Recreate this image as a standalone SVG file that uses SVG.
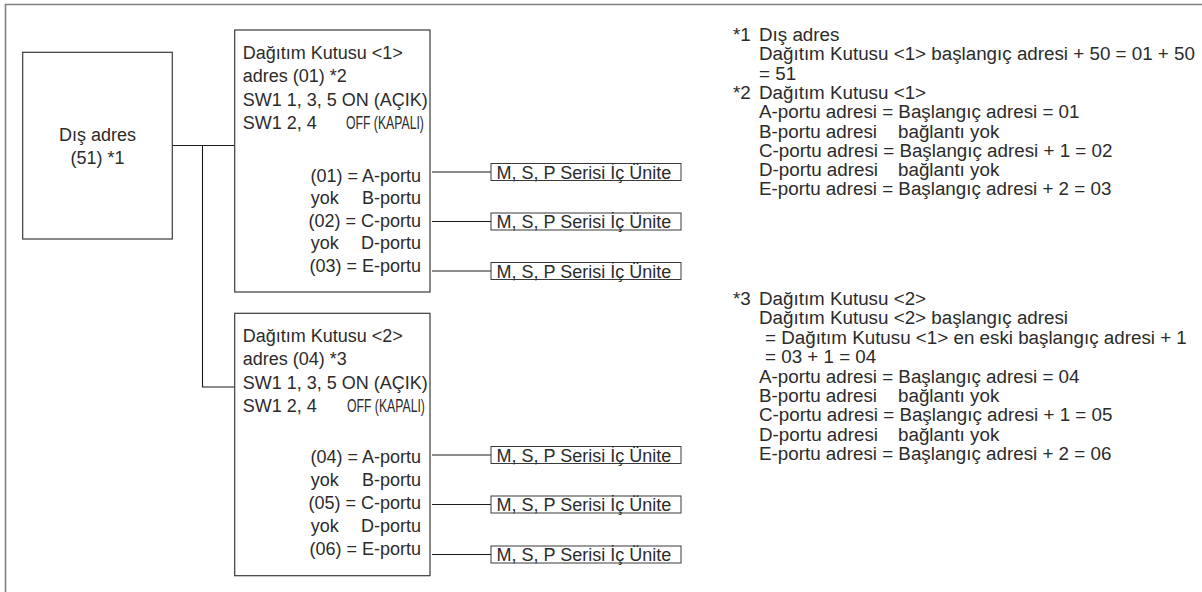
<svg xmlns="http://www.w3.org/2000/svg" width="1202" height="592" viewBox="0 0 1202 592">
<style>
text{font-family:"Liberation Sans",Arial,sans-serif;fill:#2b2b2b}
.t{font-size:18px}
.r{font-size:18.8px}
.e{text-anchor:end}
.m{text-anchor:middle}
.box{fill:#fff;stroke:#3a3a3a;stroke-width:1.2}
.unit{fill:#fff;stroke:#3a3a3a;stroke-width:1}
.ln{fill:none;stroke:#1a1a1a;stroke-width:1.1}
.frame{fill:none;stroke:#808080;stroke-width:1.6}
.nar{font-size:18px}
</style>
<rect width="1202" height="592" fill="#fff"/>
<path class="frame" d="M5.5,592 V4.5 H1202"/>

<g id="connectors">
<path class="ln" d="M172.3,145.5 H234.7 M202.5,145.5 V387 H234.7"/>
<path class="ln" d="M432,172 H491 M432,221.5 H491 M432,271 H491"/>
<path class="ln" d="M432,455 H491 M432,504.5 H491 M432,554.5 H491"/>
</g>

<g id="outdoor">
<rect class="box" x="22.7" y="52.3" width="149.6" height="186.7"/>
<text class="t m" x="97.5" y="140.7">Dış adres</text>
<text class="t m" x="97.5" y="164">(51) *1</text>
</g>

<g id="branchbox1">
<rect class="box" x="234.7" y="30" width="195.3" height="262"/>
<text class="t" x="242.7" y="58.5">Dağıtım Kutusu &lt;1&gt;</text>
<text class="t" x="242.7" y="82">adres (01) *2</text>
<text class="t" x="242.7" y="105.5">SW1 1, 3, 5 ON (AÇIK)</text>
<text class="t" x="242.7" y="129">SW1 2, 4</text>
<text class="nar" transform="translate(346,129) scale(0.68,1)">OFF (KAPALI)</text>
<text class="t e" x="421" y="181.5">(01) = A-portu</text>
<text class="t" x="310.7" y="204">yok</text>
<text class="t e" x="421" y="204">B-portu</text>
<text class="t e" x="421" y="226.5">(02) = C-portu</text>
<text class="t" x="310.7" y="249">yok</text>
<text class="t e" x="421" y="249">D-portu</text>
<text class="t e" x="421" y="271.5">(03) = E-portu</text>
</g>

<g id="branchbox2">
<rect class="box" x="234.7" y="313.3" width="195.3" height="262.4"/>
<text class="t" x="242.7" y="341.8">Dağıtım Kutusu &lt;2&gt;</text>
<text class="t" x="242.7" y="365.3">adres (04) *3</text>
<text class="t" x="242.7" y="388.8">SW1 1, 3, 5 ON (AÇIK)</text>
<text class="t" x="242.7" y="412.3">SW1 2, 4</text>
<text class="nar" transform="translate(347,412.3) scale(0.68,1)">OFF (KAPALI)</text>
<text class="t e" x="421" y="463">(04) = A-portu</text>
<text class="t" x="310.7" y="486">yok</text>
<text class="t e" x="421" y="486">B-portu</text>
<text class="t e" x="421" y="509">(05) = C-portu</text>
<text class="t" x="310.7" y="532">yok</text>
<text class="t e" x="421" y="532">D-portu</text>
<text class="t e" x="421" y="555">(06) = E-portu</text>
</g>

<g id="unit1"><rect class="unit" x="491" y="163.5" width="190" height="17"/><text class="t" x="496.5" y="178.5">M, S, P Serisi İç Ünite</text></g>
<g id="unit2"><rect class="unit" x="491" y="213" width="190" height="17"/><text class="t" x="496.5" y="228">M, S, P Serisi İç Ünite</text></g>
<g id="unit3"><rect class="unit" x="491" y="262.5" width="190" height="17"/><text class="t" x="496.5" y="277.5">M, S, P Serisi İç Ünite</text></g>
<g id="unit4"><rect class="unit" x="491" y="446.5" width="190" height="17"/><text class="t" x="496.5" y="461.5">M, S, P Serisi İç Ünite</text></g>
<g id="unit5"><rect class="unit" x="491" y="496" width="190" height="17"/><text class="t" x="496.5" y="511">M, S, P Serisi İç Ünite</text></g>
<g id="unit6"><rect class="unit" x="491" y="546" width="190" height="17"/><text class="t" x="496.5" y="561">M, S, P Serisi İç Ünite</text></g>

<g id="notes">
<text class="r" x="733" y="41">*1</text>
<text class="r" x="759" y="41">Dış adres</text>
<text class="r" x="759" y="60.3">Dağıtım Kutusu &lt;1&gt; başlangıç adresi + 50 = 01 + 50</text>
<text class="r" x="759" y="79.6">= 51</text>
<text class="r" x="733" y="98.9">*2</text>
<text class="r" x="759" y="98.9">Dağıtım Kutusu &lt;1&gt;</text>
<text class="r" x="759" y="118.2">A-portu adresi = Başlangıç adresi = 01</text>
<text class="r" x="759" y="137.5">B-portu adresi</text>
<text class="r" x="898" y="137.5">bağlantı yok</text>
<text class="r" x="759" y="156.8">C-portu adresi = Başlangıç adresi + 1 = 02</text>
<text class="r" x="759" y="176.1">D-portu adresi</text>
<text class="r" x="898" y="176.1">bağlantı yok</text>
<text class="r" x="759" y="195.4">E-portu adresi = Başlangıç adresi + 2 = 03</text>

<text class="r" x="733" y="305">*3</text>
<text class="r" x="759" y="305">Dağıtım Kutusu &lt;2&gt;</text>
<text class="r" x="759" y="324.4">Dağıtım Kutusu &lt;2&gt; başlangıç adresi</text>
<text class="r" x="765" y="343.8">= Dağıtım Kutusu &lt;1&gt; en eski başlangıç adresi + 1</text>
<text class="r" x="765" y="363.2">= 03 + 1 = 04</text>
<text class="r" x="759" y="382.6">A-portu adresi = Başlangıç adresi = 04</text>
<text class="r" x="759" y="402">B-portu adresi</text>
<text class="r" x="898" y="402">bağlantı yok</text>
<text class="r" x="759" y="421.4">C-portu adresi = Başlangıç adresi + 1 = 05</text>
<text class="r" x="759" y="440.8">D-portu adresi</text>
<text class="r" x="898" y="440.8">bağlantı yok</text>
<text class="r" x="759" y="460.2">E-portu adresi = Başlangıç adresi + 2 = 06</text>
</g>
</svg>
